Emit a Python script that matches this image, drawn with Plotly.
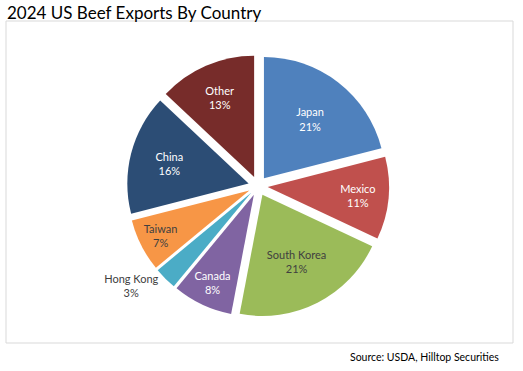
import plotly.graph_objects as go

countries = ["Japan", "Mexico", "South Korea", "Canada", "Hong Kong", "Taiwan", "China", "Other"]
shares = [21, 11, 21, 8, 3, 7, 16, 13]
colors = ["#4F81BD", "#C0504D", "#9BBB59", "#8064A2", "#4BACC6", "#F79646", "#2C4D75", "#772C2A"]
text_colors = ["white", "white", "#404040", "white", "#404040", "#404040", "white", "white"]
text_positions = ["inside", "inside", "inside", "inside", "outside", "inside", "inside", "inside"]

W, H = 523, 371
FONT = "Lato, 'Open Sans', sans-serif"

fig = go.Figure(go.Pie(
    labels=countries,
    values=shares,
    sort=False,
    direction="clockwise",
    rotation=0,
    pull=[0.08] * len(shares),
    marker=dict(colors=colors, line=dict(width=0)),
    texttemplate="%{label}<br>%{percent:.0%}",
    textposition=text_positions,
    insidetextorientation="horizontal",
    textfont=dict(family=FONT, size=11, color=text_colors),
    outsidetextfont=dict(family=FONT, size=11, color="#404040"),
    hoverinfo="label+percent",
    showlegend=False,
    domain=dict(x=[127 / W, 389 / W], y=[54 / H, 316 / H]),
))

fig.update_layout(
    width=W, height=H,
    margin=dict(l=0, r=0, t=0, b=0),
    paper_bgcolor="white",
    plot_bgcolor="white",
    shapes=[dict(type="rect", xref="paper", yref="paper",
                 x0=6 / W, x1=513 / W, y0=1 - 343 / H, y1=1 - 21 / H,
                 line=dict(color="#D9D9D9", width=1), fillcolor="rgba(0,0,0,0)", layer="below")],
    annotations=[
        dict(text="2024 US Beef Exports By Country", xref="paper", yref="paper",
             x=5 / W, y=1 - 0 / H, xanchor="left", yanchor="top", showarrow=False,
             font=dict(family=FONT, size=17, color="black")),
        dict(text="Source: USDA, Hilltop Securities", xref="paper", yref="paper",
             x=501 / W, y=1 - 349 / H, xanchor="right", yanchor="top", showarrow=False,
             font=dict(family=FONT, size=10.5, color="black")),
    ],
)

fig.write_html("out.html", config={"displayModeBar": False},
               post_script="document.body.style.margin='0';document.body.style.overflow='hidden';")
